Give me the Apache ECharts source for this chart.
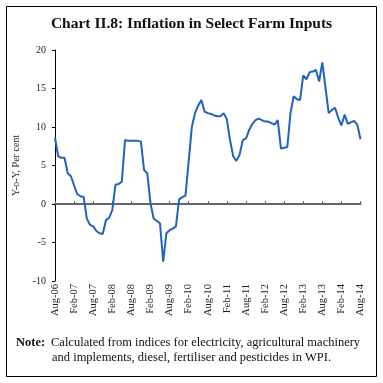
<!DOCTYPE html>
<html><head><meta charset="utf-8">
<script src="https://cdn.jsdelivr.net/npm/echarts@6/dist/echarts.min.js"></script>
<style>html,body{margin:0;padding:0;background:#fff}#c{width:383px;height:383px}</style>
</head><body><div id="c"></div>
<script>
const months = ['Jan','Feb','Mar','Apr','May','Jun','Jul','Aug','Sep','Oct','Nov','Dec'];
const categories = [];
for (let k = 0; k <= 96; k++) {
  const m = (7 + k) % 12, y = 6 + Math.floor((7 + k) / 12);
  categories.push(months[m] + '-' + (y < 10 ? '0' + y : '' + y));
}
const inflation = [
  8.6, 6.2, 6.0, 6.0, 4.0, 3.6, 2.4, 1.3, 1.0, 0.9,
  -1.9, -2.7, -2.9, -3.5, -3.8, -3.9, -2.1, -1.8, -0.8, 2.5,
  2.6, 2.9, 8.3, 8.2, 8.2, 8.2, 8.2, 8.1, 4.4, 4.0,
  0.1, -1.9, -2.2, -2.5, -7.5, -3.8, -3.4, -3.2, -2.9, 0.6,
  0.9, 1.1, 5.5, 10.0, 11.8, 12.8, 13.5, 12.0, 11.8, 11.7,
  11.5, 11.4, 11.4, 11.8, 11.0, 8.3, 6.2, 5.6, 6.4, 8.3,
  8.5, 9.6, 10.4, 10.9, 11.1, 10.9, 10.7, 10.7, 10.5, 10.3,
  10.9, 7.2, 7.3, 7.4, 11.8, 14.0, 13.6, 13.5, 16.7, 16.2,
  17.1, 17.2, 17.4, 15.9, 18.4, 15.1, 11.8, 12.2, 12.5, 11.2,
  10.2, 11.6, 10.4, 10.6, 10.8, 10.3, 8.4
];
const yTicks = [-10, -5, 0, 5, 10, 15, 20];
const titleText = 'Chart II.8: Inflation in Select Farm Inputs';
const yName = 'Y-o-Y, Per cent';
const noteLabel = 'Note:';
const noteLine1 = 'Calculated from indices for electricity, agricultural machinery';
const noteLine2 = 'and implements, diesel, fertiliser and pesticides in WPI.';

const serif = '"Liberation Serif", "DejaVu Serif", serif';
const chart = echarts.init(document.getElementById('c'), null, {renderer: 'canvas'});
chart.setOption({
  animation: false,
  backgroundColor: '#fff',
  title: {
    text: titleText, left: 'center', top: 11,
    textStyle: {fontFamily: serif, fontWeight: 'bold', fontSize: 15.5, color: '#111'}
  },
  grid: {left: 55, right: 22.5, top: 50, bottom: 102, containLabel: false},
  xAxis: [{
    type: 'category', data: categories, boundaryGap: false, position: 'bottom',
    axisLine: {show: false, onZero: false}, axisTick: {show: false},
    axisLabel: {interval: 5, rotate: 90, fontFamily: serif, fontSize: 10.5, color: '#222', margin: 3}
  }, {
    type: 'category', data: categories, boundaryGap: false,
    axisLine: {show: true, onZero: true, lineStyle: {color: '#666', width: 2}},
    axisTick: {show: true, interval: 5, length: 3, lineStyle: {color: '#666'}},
    axisLabel: {show: false}
  }],
  yAxis: {
    type: 'value', min: -10, max: 20, interval: 5,
    name: yName, nameLocation: 'middle', nameGap: 27,
    nameTextStyle: {fontFamily: serif, fontSize: 10, color: '#222'},
    axisLine: {show: true, lineStyle: {color: '#000', width: 1}},
    axisTick: {show: true, length: 3, lineStyle: {color: '#000'}},
    axisLabel: {fontFamily: serif, fontSize: 10, color: '#222', margin: 9,
      formatter: v => yTicks.includes(v) ? String(v) : ''},
    splitLine: {show: false}
  },
  series: [{
    type: 'line', data: inflation, xAxisIndex: 0, showSymbol: false,
    lineStyle: {color: '#1f62c0', width: 2}
  }],
  graphic: [
    {type: 'rect', shape: {x: 6.5, y: 6.5, width: 370, height: 370},
     style: {fill: 'none', stroke: '#000', lineWidth: 1}, silent: true},
    {type: 'text', left: 16, top: 336,
     style: {text: noteLabel, font: 'bold 12.5px ' + serif, fill: '#111'}},
    {type: 'text', left: 51, top: 336,
     style: {text: noteLine1, font: '12.5px ' + serif, fill: '#111'}},
    {type: 'text', left: 52, top: 351,
     style: {text: noteLine2, font: '12.5px ' + serif, fill: '#111'}}
  ]
});
</script></body></html>
